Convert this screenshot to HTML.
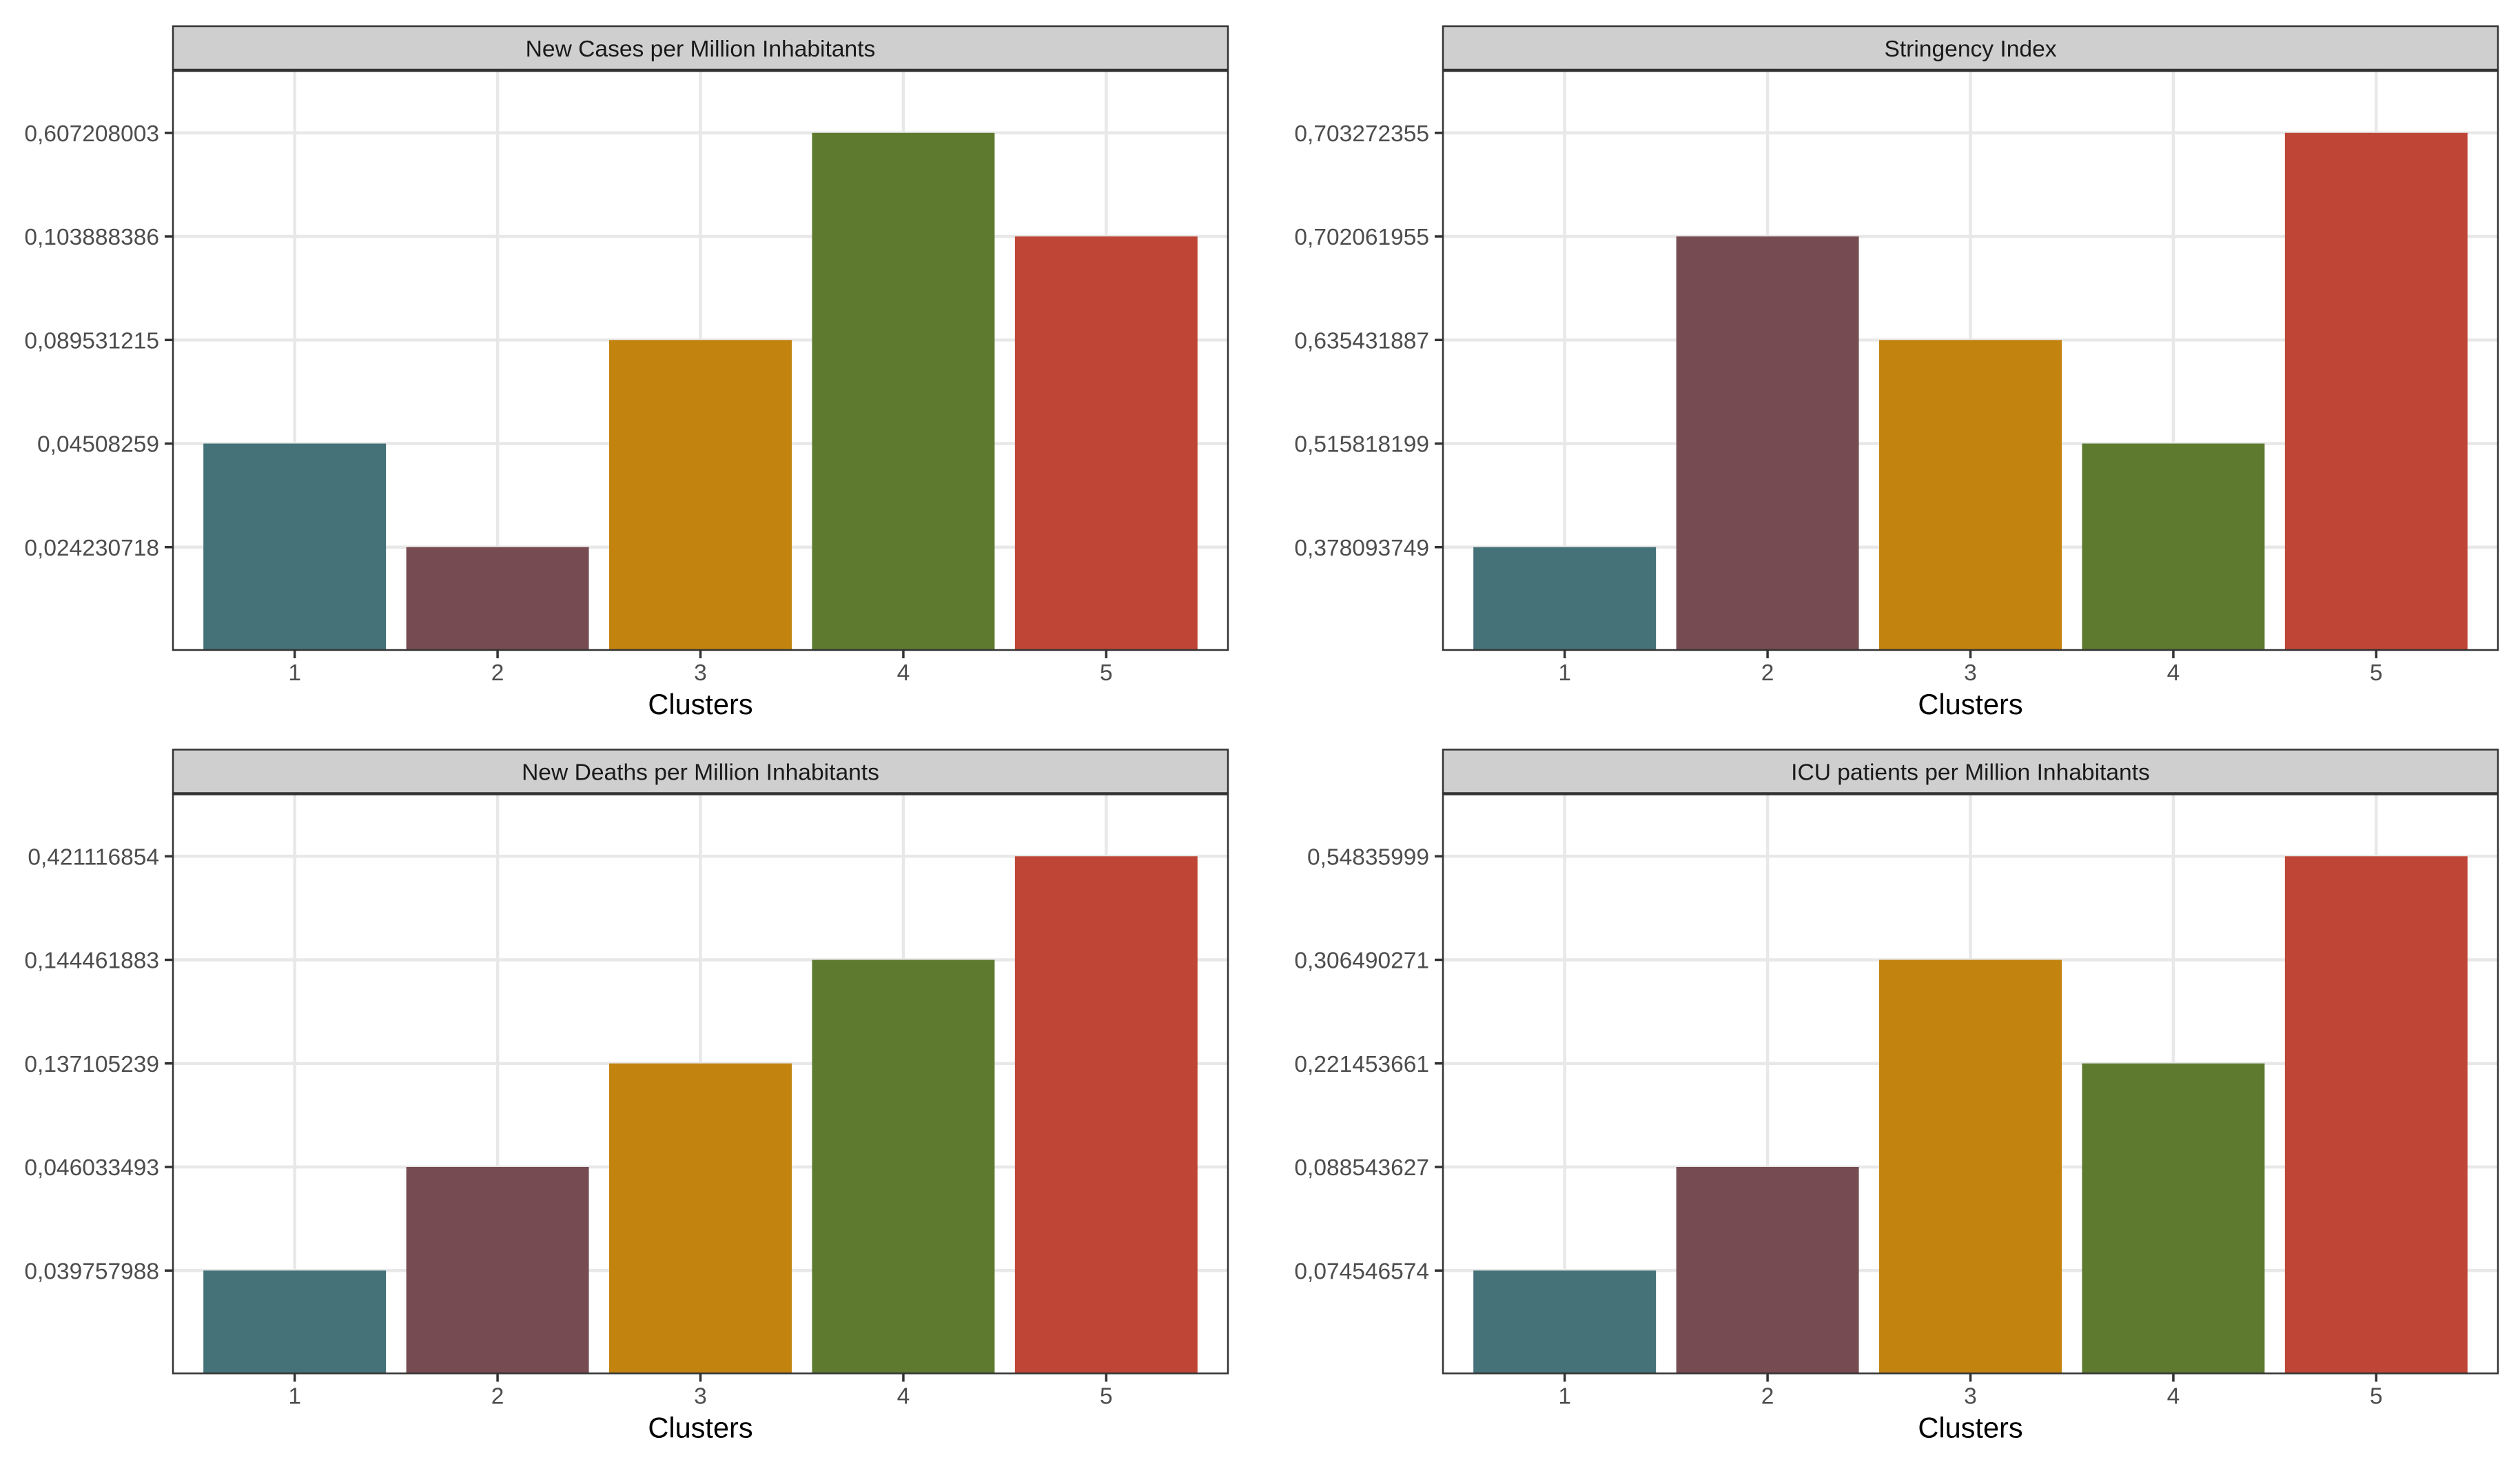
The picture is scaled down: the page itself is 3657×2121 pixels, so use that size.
<!DOCTYPE html>
<html lang="en">
<head>
<meta charset="utf-8">
<title>Cluster indicators by cluster</title>
<style>
  html, body { margin: 0; padding: 0; background: #ffffff; }
  svg { display: block; }
  text { font-family: "Liberation Sans", Arial, sans-serif; }
  .tick-label { font-size: 33.5px; fill: #4d4d4d; }
  .strip-label { font-size: 33.6px; fill: #1a1a1a; }
  .axis-title { font-size: 41.5px; fill: #000000; }
</style>
</head>
<body>
<svg id="chart" xmlns="http://www.w3.org/2000/svg" width="3657" height="2121" viewBox="0 0 3657 2121"></svg>
<script>
// ---- Data ----
const clusters = [1, 2, 3, 4, 5];
const barColors = ['#447278', '#774b52', '#c2830f', '#5d7a2f', '#bf4636'];

const casesTitle = 'New Cases per Million Inhabitants';
const casesTicks = [0.024230718, 0.04508259, 0.089531215, 0.103888386, 0.607208003];
const casesValues = [0.04508259, 0.024230718, 0.089531215, 0.607208003, 0.103888386];

const stringencyTitle = 'Stringency Index';
const stringencyTicks = [0.378093749, 0.515818199, 0.635431887, 0.702061955, 0.703272355];
const stringencyValues = [0.378093749, 0.702061955, 0.635431887, 0.515818199, 0.703272355];

const deathsTitle = 'New Deaths per Million Inhabitants';
const deathsTicks = [0.039757988, 0.046033493, 0.137105239, 0.144461883, 0.421116854];
const deathsValues = [0.039757988, 0.046033493, 0.137105239, 0.144461883, 0.421116854];

const icuTitle = 'ICU patients per Million Inhabitants';
const icuTicks = [0.074546574, 0.088543627, 0.221453661, 0.306490271, 0.54835999];
const icuValues = [0.074546574, 0.088543627, 0.306490271, 0.221453661, 0.54835999];

const xAxisTitle = 'Clusters';

// ---- Layout ----
const panelWidth = 1531;
const stripHeight = 63;
const panelGap = 2;
const panelHeight = 840;
const bandUnit = panelWidth / 5.2;
const barWidth = bandUnit * 0.9;
const rankStep = 150.25;
const zeroOffset = 1;

const svg = document.getElementById('chart');
const NS = 'http://www.w3.org/2000/svg';

function make(parent, tag, attrs, content) {
  const el = document.createElementNS(NS, tag);
  for (const key in attrs) el.setAttribute(key, attrs[key]);
  if (content !== undefined) el.textContent = content;
  parent.appendChild(el);
  return el;
}

function tickText(v) {
  return String(v).replace('.', ',');
}

// Discrete-looking y axis: each tick value sits one equal step above the previous.
function rankOf(value, ticks) {
  if (value <= ticks[0]) return Math.max(0, value / ticks[0]);
  for (let i = 1; i < ticks.length; i++) {
    if (value <= ticks[i]) return i + (value - ticks[i - 1]) / (ticks[i] - ticks[i - 1]);
  }
  const n = ticks.length;
  return n + (value - ticks[n - 1]) / (ticks[n - 1] - ticks[n - 2]);
}

function drawPanel(title, ticks, values, left, top, slug) {
  const panelTop = top + stripHeight + panelGap;
  const baseline = panelTop + panelHeight;
  const xScale = function (c) { return left + (c - 1 + 0.6) * bandUnit; };
  const yScale = function (v) { return baseline + zeroOffset - rankOf(v, ticks) * rankStep; };

  const group = make(svg, 'g', {});
  
  

  const bg = make(group, 'rect', { x: left, y: panelTop, width: panelWidth, height: panelHeight, fill: '#ffffff' });
  
  

  ticks.forEach(function (t, i) {
    const line = make(group, 'line', { x1: left, x2: left + panelWidth, y1: yScale(t), y2: yScale(t), stroke: '#e8e8e8', 'stroke-width': 4.5 });
    
    
  });
  clusters.forEach(function (c) {
    const line = make(group, 'line', { x1: xScale(c), x2: xScale(c), y1: panelTop, y2: baseline, stroke: '#e8e8e8', 'stroke-width': 4.5 });
    
    
  });

  values.forEach(function (v, i) {
    const c = clusters[i];
    const barTop = yScale(v);
    const bar = make(group, 'rect', { x: xScale(c) - barWidth / 2, y: barTop, width: barWidth, height: baseline - barTop, fill: barColors[i] });
    
    
  });

  const border = make(group, 'rect', { x: left, y: panelTop, width: panelWidth, height: panelHeight, fill: 'none', stroke: '#333333', 'stroke-width': 2.5 });
  
  

  const strip = make(group, 'rect', { x: left, y: top, width: panelWidth, height: stripHeight, fill: '#cfcfcf', stroke: '#333333', 'stroke-width': 2.5 });
  
  

  const stripLabel = make(group, 'text', { x: left + panelWidth / 2, y: top + 44, 'text-anchor': 'middle', class: 'strip-label' }, title);
  
  

  ticks.forEach(function (t, i) {
    const mark = make(group, 'line', { x1: left - 12, x2: left, y1: yScale(t), y2: yScale(t), stroke: '#333333', 'stroke-width': 3.5 });
    
    
    const label = make(group, 'text', { x: left - 20, y: yScale(t) + 12, 'text-anchor': 'end', class: 'tick-label' }, tickText(t));
    
    
  });

  clusters.forEach(function (c) {
    const mark = make(group, 'line', { x1: xScale(c), x2: xScale(c), y1: baseline, y2: baseline + 12, stroke: '#333333', 'stroke-width': 3.5 });
    
    
    const label = make(group, 'text', { x: xScale(c), y: baseline + 44, 'text-anchor': 'middle', class: 'tick-label' }, String(c));
    
    
  });

  const axisTitle = make(group, 'text', { x: left + panelWidth / 2, y: baseline + 93, 'text-anchor': 'middle', class: 'axis-title' }, xAxisTitle);
  
  
}

drawPanel(casesTitle, casesTicks, casesValues, 251, 38, 'new-cases');
drawPanel(stringencyTitle, stringencyTicks, stringencyValues, 2094, 38, 'stringency');
drawPanel(deathsTitle, deathsTicks, deathsValues, 251, 1087.5, 'new-deaths');
drawPanel(icuTitle, icuTicks, icuValues, 2094, 1087.5, 'icu-patients');
</script>
</body>
</html>
